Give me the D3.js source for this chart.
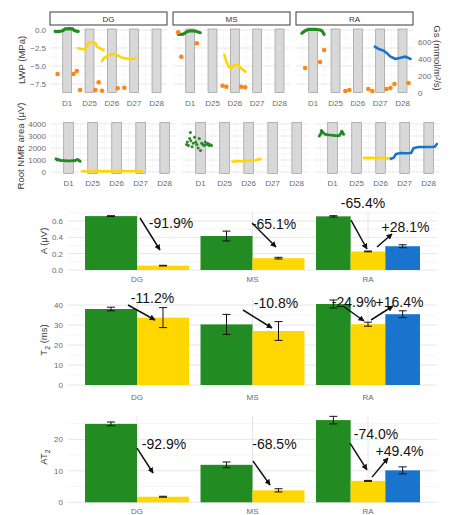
<!DOCTYPE html>
<html><head><meta charset="utf-8">
<script src="https://cdn.jsdelivr.net/npm/d3@7"></script>
<style>body{margin:0;background:#fff}svg{display:block;font-family:"Liberation Sans",Arial,sans-serif}</style>
</head><body><svg id="c" width="452" height="515"></svg>
<script>
// ---------------- DATA ----------------
const facets = ["DG","MS","RA"];
const dayLabels = ["D1","D25","D26","D27","D28"];
const lwpTicks = [0,-2.5,-5,-7.5];
const gsTicks = [0,200,400,600];
const nmrTicks = [0,1000,2000,3000,4000];

// Row 1 lines, LWP (MPa): [facet, segment, day position, value]
const lwpControl = [
  ["DG",0,-0.54,-0.2],["DG",0,-0.45,-0.22],["DG",0,-0.35,-0.2],["DG",0,-0.2,-0.1],["DG",0,-0.1,0.15],["DG",0,0.1,0.18],["DG",0,0.25,0.15],["DG",0,0.3,-0.05],["DG",0,0.4,-0.15],["DG",0,0.49,-0.2],
  ["MS",0,-0.53,-0.6],["MS",0,-0.3,-0.56],["MS",0,-0.15,-0.24],["MS",0,0,-0.1],["MS",0,0.22,-0.14],["MS",0,0.45,-0.37],
  ["RA",0,-0.51,-0.46],["RA",0,-0.36,-0.1],["RA",0,-0.21,0.1],["RA",0,0.09,0.1],["RA",0,0.31,0],["RA",0,0.39,-0.1],["RA",0,0.49,-0.6]
];
const lwpDrought = [
  ["DG",1,0.48,-2.55],["DG",1,0.66,-2.64],["DG",1,0.81,-2.69],["DG",1,0.88,-2.31],["DG",1,0.96,-1.76],["DG",1,1.18,-1.71],["DG",1,1.26,-1.76],["DG",1,1.33,-2.31],["DG",1,1.48,-2.55],["DG",1,1.63,-2.78],
  ["DG",2,1.56,-4.31],["DG",2,1.63,-3.94],["DG",2,1.78,-3.61],["DG",2,1.93,-3.38],["DG",2,2.16,-3.38],["DG",2,2.31,-3.61],["DG",2,2.46,-3.84],["DG",2,2.76,-4.03],["DG",2,3.06,-3.94],
  ["MS",1,1.53,-3.47],["MS",1,1.62,-4.4],["MS",1,1.72,-5.09],["MS",1,1.83,-5.32],["MS",1,1.95,-4.95],["MS",1,2.13,-4.77],["MS",1,2.25,-5.23],["MS",1,2.47,-5.79]
];
const lwpRewater = [
  ["RA",1,2.76,-2.31],["RA",1,2.94,-2.64],["RA",1,3.16,-2.87],["RA",1,3.31,-3.24],["RA",1,3.46,-3.7],["RA",1,3.69,-4.03],["RA",1,3.91,-3.84],["RA",1,4.13,-3.7],["RA",1,4.36,-4.03]
];
// Row 1 points, Gs (mmol/m2/s): [facet, day position, value]
const gsPoints = [
  ["DG",-0.43,224],["DG",0.28,224],["DG",0.43,259],["DG",0.58,35],["DG",1.26,35],["DG",1.41,126],["DG",1.56,27],["DG",2.26,55],["DG",2.56,62],
  ["MS",-0.54,714],["MS",0.3,585],["MS",-0.4,427],["MS",1.45,86],["MS",1.62,74],["MS",2.28,74],["MS",2.46,67],
  ["RA",-0.36,294],["RA",0.31,365],["RA",0.49,506],["RA",1.44,24],["RA",1.62,35],["RA",2.47,47],["RA",2.65,24],["RA",3.28,47],["RA",3.46,59],["RA",3.64,106],["RA",4.27,118]
];
// Row 2, Root NMR area (µV): [facet, day position, value]
const nmrControl = [
  ["DG",-0.52,1100],["DG",-0.47,1000],["DG",-0.42,1050],["DG",-0.36,980],["DG",-0.3,960],["DG",-0.22,950],["DG",-0.14,940],["DG",-0.06,930],["DG",0.02,920],["DG",0.1,930],["DG",0.18,940],["DG",0.26,960],["DG",0.32,1000],["DG",0.38,1050],["DG",0.44,950],["DG",0.48,900],
  ["MS",-0.58,2300],["MS",-0.55,2500],["MS",-0.5,2200],["MS",-0.45,2800],["MS",-0.42,3300],["MS",-0.4,2600],["MS",-0.35,2100],["MS",-0.3,2400],["MS",-0.25,2900],["MS",-0.2,2500],["MS",-0.15,2300],["MS",-0.1,2000],["MS",-0.05,2800],["MS",0,1800],["MS",0.05,2400],["MS",0.1,2300],["MS",0.15,2200],["MS",0.2,2500],["MS",0.25,2300],["MS",0.3,2400],["MS",0.35,2200],["MS",0.4,2300],["MS",0.46,2200],
  ["RA",-0.55,3000],["RA",-0.5,3150],["RA",-0.46,3450],["RA",-0.42,3350],["RA",-0.38,3250],["RA",-0.3,3150],["RA",-0.2,3100],["RA",-0.1,3080],["RA",0,3060],["RA",0.1,3040],["RA",0.2,3020],["RA",0.28,3050],["RA",0.34,3200],["RA",0.38,3400],["RA",0.42,3300],["RA",0.46,3150]
];
const nmrDrought = [
  ["DG",0.58,60],["DG",1.0,60],["DG",1.5,55],["DG",2.0,60],["DG",2.5,60],["DG",3.07,65],
  ["MS",1.33,850],["MS",1.5,920],["MS",1.7,890],["MS",1.9,950],["MS",2.1,960],["MS",2.3,1000],["MS",2.49,1080],
  ["RA",1.31,1180],["RA",1.6,1180],["RA",1.9,1170],["RA",2.2,1170],["RA",2.43,1120]
];
const nmrRewater = [
  ["RA",2.43,1100],["RA",2.55,1200],["RA",2.64,1500],["RA",2.84,1580],["RA",3.05,1560],["RA",3.26,1580],["RA",3.38,2000],["RA",3.59,2080],["RA",3.8,2080],["RA",4.13,2080],["RA",4.25,2100],["RA",4.34,2330]
];

// Bar charts: [group, treatment, mean, error]
const groups = ["DG","MS","RA"];
const treatments = ["Control","Drought","Rewatered"];
const ampBars = [["DG","Control",0.66,0.005],["DG","Drought",0.0535,0.004],["MS","Control",0.416,0.06],["MS","Drought",0.145,0.01],["RA","Control",0.657,0.008],["RA","Drought",0.227,0.005],["RA","Rewatered",0.291,0.018]];
const t2Bars = [["DG","Control",38.0,0.9],["DG","Drought",33.7,5.0],["MS","Control",30.3,5.0],["MS","Drought",27.0,4.7],["RA","Control",40.5,2.0],["RA","Drought",30.4,1.0],["RA","Rewatered",35.4,1.7]];
const at2Bars = [["DG","Control",24.9,0.6],["DG","Drought",1.77,0.15],["MS","Control",11.9,0.9],["MS","Drought",3.8,0.5],["RA","Control",26.1,1.2],["RA","Drought",6.8,0.15],["RA","Rewatered",10.15,1.1]];
const ampTicks = [0,0.2,0.4,0.6], t2Ticks = [0,10,20,30,40], at2Ticks = [0,10,20];
// Annotations: [label, label x, label y, arrow x1, y1, x2, y2] in data units
const ampNotes = [["-91.9%",1.294,0.575,1.026,0.637,1.199,0.245],["-65.1%",2.186,0.563,1.996,0.575,2.203,0.282],["-65.4%",2.957,0.82,2.853,0.612,2.991,0.257],["+28.1%",3.325,0.527,3.078,0.282,3.208,0.441]];
const t2Notes = [["-11.2%",1.134,43.5,0.922,40,1.156,32.5],["-10.8%",2.203,41,1.918,37.5,2.169,28.5],["-24.9%",2.879,41.5,2.784,39.5,2.965,32],["+16.4%",3.273,41.5,3.026,32.5,3.216,39.5]];
const at2Notes = [["-92.9%",1.234,18.5,1.0,17.2,1.139,9.3],["-68.5%",2.19,18.5,2.004,13.1,2.152,5.5],["-74.0%",3.069,21.7,2.844,18.8,2.991,10.3],["+49.4%",3.273,16.3,3.035,8.0,3.173,14.1]];

// ---------------- STYLE ----------------
const COL = {Control:"#228B22", Drought:"#FFD700", Rewatered:"#1874CD"};
const ORANGE = "#FF8517";
const GRID = "#e3e3e3", GRID_MINOR = "#f1f1f1", TXT = "#6b6b6b", TITLE = "#3a3a3a";

const svg = d3.select("#c");
svg.append("rect").attr("width",452).attr("height",515).attr("fill","#fff");
svg.append("defs").append("marker").attr("id","ah").attr("viewBox","0 0 10 10")
  .attr("refX",9).attr("refY",5).attr("markerWidth",6).attr("markerHeight",6)
  .attr("markerUnits","userSpaceOnUse").attr("orient","auto")
  .append("path").attr("d","M0,0 L10,5 L0,10 Z").attr("fill","#111");

const dayDomain = [-0.77, 4.47];

function timeRow(cfg){
  facets.forEach((f,i)=>{
    const g = svg.append("g").attr("transform",`translate(${cfg.x0[i]},0)`);
    const x = d3.scaleLinear().domain(dayDomain).range([0,cfg.w]);
    const y = cfg.y;
    cfg.minor.forEach(v=>g.append("line").attr("x1",0).attr("x2",cfg.w).attr("y1",y(v)).attr("y2",y(v)).attr("stroke",GRID_MINOR).attr("stroke-width",0.6));
    [-0.5,0.5,1.5,2.5,3.5].forEach(v=>g.append("line").attr("x1",x(v)).attr("x2",x(v)).attr("y1",cfg.top).attr("y2",cfg.bottom).attr("stroke",GRID_MINOR).attr("stroke-width",0.6));
    cfg.ticks.forEach(v=>g.append("line").attr("x1",0).attr("x2",cfg.w).attr("y1",y(v)).attr("y2",y(v)).attr("stroke",GRID).attr("stroke-width",0.8));
    dayLabels.forEach((d,k)=>g.append("line").attr("x1",x(k)).attr("x2",x(k)).attr("y1",cfg.top).attr("y2",cfg.bottom).attr("stroke",GRID).attr("stroke-width",0.8));
    g.selectAll("rect.day").data(dayLabels).join("rect").attr("class","day")
      .attr("x",(d,k)=>x(k-0.2)).attr("width",(d,k)=>x(k+0.2)-x(k-0.2))
      .attr("y",cfg.top).attr("height",cfg.bottom-cfg.top)
      .attr("fill","#d8d8d8").attr("stroke","#9a9a9a").attr("stroke-width",0.7);
    g.selectAll("text.xl").data(dayLabels).join("text").attr("class","xl")
      .attr("x",(d,k)=>x(k)).attr("y",cfg.labelY).attr("text-anchor","middle")
      .attr("font-size",8).attr("fill",TXT).text(d=>d);
    cfg.draw(g,f,x);
  });
}

function lineSeries(g, arr, f, x, y, color, w){
  const sub = arr.filter(d=>d[0]===f);
  const segs = d3.group(sub, d=>d[1]);
  const ln = d3.line().x(d=>x(d[2])).y(d=>y(d[3])).curve(d3.curveLinear);
  segs.forEach(s=>g.append("path").attr("d",ln(s)).attr("fill","none").attr("stroke",color)
    .attr("stroke-width",w).attr("stroke-linejoin","round").attr("stroke-linecap","round"));
}

// Row 1
const r1 = {x0:[50,173,296], w:117, top:29, bottom:92.5};
const yL = d3.scaleLinear().domain([-8.68,0.14]).range([r1.bottom,r1.top]);
const yG = d3.scaleLinear().domain([5.9,753]).range([r1.bottom,r1.top]);
timeRow({x0:r1.x0, w:r1.w, top:r1.top, bottom:r1.bottom, y:yL, ticks:lwpTicks, minor:[-1.25,-3.75,-6.25], labelY:106,
  draw:(g,f,x)=>{
    lineSeries(g,lwpControl,f,x,yL,COL.Control,3.2);
    lineSeries(g,lwpDrought,f,x,yL,COL.Drought,2.6);
    lineSeries(g,lwpRewater,f,x,yL,COL.Rewatered,2.6);
    g.selectAll("circle.gs").data(gsPoints.filter(d=>d[0]===f)).join("circle").attr("class","gs")
      .attr("cx",d=>x(d[1])).attr("cy",d=>yG(d[2])).attr("r",2.3).attr("fill",ORANGE);
  }});
facets.forEach((f,i)=>{
  svg.append("rect").attr("x",r1.x0[i]).attr("y",12).attr("width",r1.w).attr("height",13)
    .attr("fill","#fff").attr("stroke","#3a3a3a").attr("stroke-width",1);
  svg.append("text").attr("x",r1.x0[i]+r1.w/2).attr("y",21.5).attr("text-anchor","middle")
    .attr("font-size",8).attr("fill","#333").text(f);
});
lwpTicks.forEach(v=>svg.append("text").attr("x",46).attr("y",yL(v)+3).attr("text-anchor","end").attr("font-size",8).attr("fill",TXT).text(d3.format(".1f")(v)));
gsTicks.forEach(v=>svg.append("text").attr("x",418).attr("y",yG(v)+3).attr("font-size",8).attr("fill",TXT).text(v));
svg.append("text").attr("transform","translate(25,60) rotate(-90)").attr("text-anchor","middle").attr("font-size",9.5).attr("fill",TITLE).text("LWP (MPa)");
svg.append("text").attr("transform","translate(434,58) rotate(90)").attr("text-anchor","middle").attr("font-size",9.5).attr("fill",TITLE).text("Gs (mmol/m²/s)");

// Row 2
const r2 = {x0:[50,182,314], w:126, top:122.5, bottom:173.5};
const yN = d3.scaleLinear().domain([-125,4125]).range([r2.bottom,r2.top]);
timeRow({x0:r2.x0, w:r2.w, top:r2.top, bottom:r2.bottom, y:yN, ticks:nmrTicks, minor:[500,1500,2500,3500], labelY:186,
  draw:(g,f,x)=>{
    const ctl = nmrControl.filter(d=>d[0]===f);
    if(f!=="MS"){
      g.append("path").attr("d",d3.line().x(d=>x(d[1])).y(d=>yN(d[2]))(ctl)).attr("fill","none")
        .attr("stroke",COL.Control).attr("stroke-width",2).attr("stroke-linejoin","round");
    }
    g.selectAll("circle.c").data(ctl).join("circle").attr("class","c")
      .attr("cx",d=>x(d[1])).attr("cy",d=>yN(d[2])).attr("r",1.5).attr("fill",COL.Control);
    [[nmrDrought,COL.Drought],[nmrRewater,COL.Rewatered]].forEach(([arr,c])=>{
      const s = arr.filter(d=>d[0]===f);
      if(s.length) g.append("path").attr("d",d3.line().x(d=>x(d[1])).y(d=>yN(d[2]))(s)).attr("fill","none")
        .attr("stroke",c).attr("stroke-width",2.6).attr("stroke-linejoin","round").attr("stroke-linecap","round");
    });
  }});
nmrTicks.forEach(v=>svg.append("text").attr("x",46).attr("y",yN(v)+3).attr("text-anchor","end").attr("font-size",8).attr("fill",TXT).text(v));
svg.append("text").attr("transform","translate(24,146) rotate(-90)").attr("text-anchor","middle").attr("font-size",9.5).attr("fill",TITLE).text("Root NMR area (μV)");

// Bar charts
const xB = d3.scaleLinear().domain([0.4,3.6]).range([67.7,437.3]);
function barChart(cfg){
  const y = d3.scaleLinear().domain(cfg.domain).range(cfg.range);
  const g = svg.append("g");
  cfg.minor.forEach(v=>g.append("line").attr("x1",xB(0.4)).attr("x2",xB(3.6)).attr("y1",y(v)).attr("y2",y(v)).attr("stroke",GRID_MINOR).attr("stroke-width",0.7));
  cfg.ticks.forEach(v=>g.append("line").attr("x1",xB(0.4)).attr("x2",xB(3.6)).attr("y1",y(v)).attr("y2",y(v)).attr("stroke",GRID).attr("stroke-width",0.9));
  groups.forEach((gr,i)=>g.append("line").attr("x1",xB(i+1)).attr("x2",xB(i+1)).attr("y1",cfg.range[1]).attr("y2",cfg.range[0]).attr("stroke",GRID).attr("stroke-width",0.9));
  cfg.ticks.forEach(v=>g.append("text").attr("x",63).attr("y",y(v)+3).attr("text-anchor","end").attr("font-size",8).attr("fill",TXT).text(cfg.fmt(v)));
  groups.forEach((gr,i)=>g.append("text").attr("x",xB(i+1)).attr("y",cfg.labelY).attr("text-anchor","middle").attr("font-size",8).attr("fill",TXT).text(gr));
  groups.forEach((gr,i)=>{
    const rows = cfg.data.filter(d=>d[0]===gr);
    const bw = 0.9/rows.length;
    rows.forEach((d,k)=>{
      const x0 = i+1-0.45+k*bw, xc = x0+bw/2;
      g.append("rect").attr("x",xB(x0)).attr("width",xB(x0+bw)-xB(x0)).attr("y",y(d[2])).attr("height",y(0)-y(d[2]))
        .attr("fill",COL[d[1]]);
      const ex = xB(xc);
      g.append("line").attr("x1",ex).attr("x2",ex).attr("y1",y(d[2]-d[3])).attr("y2",y(d[2]+d[3])).attr("stroke","#111").attr("stroke-width",1);
      [d[2]-d[3],d[2]+d[3]].forEach(v=>g.append("line").attr("x1",ex-4).attr("x2",ex+4).attr("y1",y(v)).attr("y2",y(v)).attr("stroke","#111").attr("stroke-width",1));
    });
  });
  cfg.notes.forEach(n=>{
    g.append("line").attr("x1",xB(n[3])).attr("y1",y(n[4])).attr("x2",xB(n[5])).attr("y2",y(n[6]))
      .attr("stroke","#111").attr("stroke-width",1.5).attr("marker-end","url(#ah)");
    g.append("text").attr("x",xB(n[1])).attr("y",y(n[2])).attr("dy","0.35em").attr("text-anchor","middle")
      .attr("font-size",14).attr("fill","#111").text(n[0]);
  });
  const t = g.append("text").attr("transform",`translate(${cfg.titleX},${cfg.titleY}) rotate(-90)`).attr("text-anchor","middle").attr("font-size",9.5).attr("fill",TITLE);
  cfg.title(t);
}
barChart({data:ampBars, domain:[0,0.72], range:[270,211.2], ticks:ampTicks, minor:[0.1,0.3,0.5,0.7], fmt:d3.format(".1f"), labelY:282, notes:ampNotes, titleX:47, titleY:241,
  title:t=>t.text("A (μV)")});
barChart({data:t2Bars, domain:[0,43], range:[385,299], ticks:t2Ticks, minor:[5,15,25,35], fmt:d3.format("d"), labelY:400, notes:t2Notes, titleX:47, titleY:340,
  title:t=>{t.append("tspan").text("T");t.append("tspan").attr("font-size",7).attr("dy",2.5).text("2");t.append("tspan").attr("dy",-2.5).text(" (ms)");}});
barChart({data:at2Bars, domain:[0,27.5], range:[502.3,415.7], ticks:at2Ticks, minor:[5,15,25], fmt:d3.format("d"), labelY:514, notes:at2Notes, titleX:47, titleY:457,
  title:t=>{t.append("tspan").text("AT");t.append("tspan").attr("font-size",7).attr("dy",2.5).text("2");}});
</script>
</body></html>
